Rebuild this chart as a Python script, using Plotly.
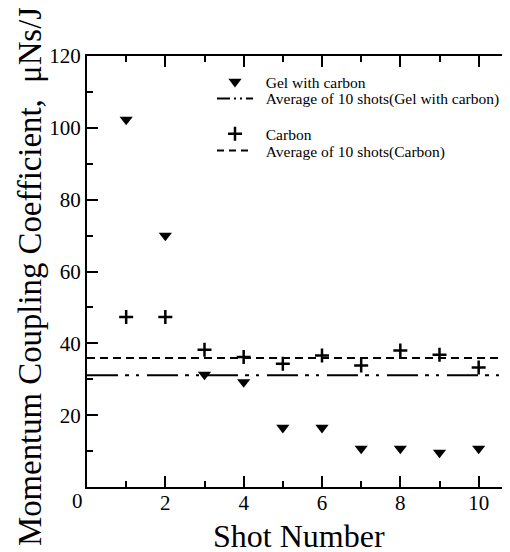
import plotly.graph_objects as go

shots = [1, 2, 3, 4, 5, 6, 7, 8, 9, 10]
gel_with_carbon = [102.3, 70.0, 31.3, 29.2, 16.5, 16.5, 10.7, 10.7, 9.6, 10.7]
carbon = [47.3, 47.3, 38.2, 36.2, 34.3, 36.6, 33.8, 38.0, 36.8, 33.3]
avg_gel = 31.1
avg_carbon = 35.9

x_range = [0, 10.8]
y_range = [0, 120]
x_ticks = [2, 4, 6, 8, 10]
y_ticks = [20, 40, 60, 80, 100, 120]

FONT = "Liberation Serif, Times New Roman, serif"
LEG_FONT = dict(family=FONT, size=15.5, color="black")
PAD = "\u00a0\u00a0"

fig = go.Figure()

# average lines drawn across the full x range
fig.add_trace(go.Scatter(
    x=x_range, y=[avg_gel, avg_gel], mode="lines", showlegend=False,
    line=dict(color="black", width=2, dash="31px,7px,4px,7px,3px,8px"),
))
fig.add_trace(go.Scatter(
    x=x_range, y=[avg_carbon, avg_carbon], mode="lines", showlegend=False,
    line=dict(color="black", width=2, dash="8px,5px"),
))
# legend-only entries for the average lines (shorter dash pattern, as in the key)
fig.add_trace(go.Scatter(
    x=[None], y=[None], mode="lines",
    name=PAD + "Average of 10 shots(Gel with carbon)", legend="legend2",
    line=dict(color="black", width=2, dash="13px,4px,2px,4px,2px,4px"),
))
fig.add_trace(go.Scatter(
    x=[None], y=[None], mode="lines",
    name=PAD + "Average of 10 shots(Carbon)", legend="legend4",
    line=dict(color="black", width=2, dash="7px,5px"),
))
fig.add_trace(go.Scatter(
    x=shots, y=gel_with_carbon, mode="markers",
    name=PAD + "Gel with carbon", legend="legend",
    marker=dict(symbol="triangle-down", size=11.5, color="black"),
))
fig.add_trace(go.Scatter(
    x=shots, y=carbon, mode="markers",
    name=PAD + "Carbon", legend="legend3",
    marker=dict(symbol="cross-thin", size=10, color="black",
                line=dict(color="black", width=2.5)),
))

fig.add_annotation(x=0, y=0, xref="x", yref="y", text="0", showarrow=False,
                   xshift=-10, yshift=-14, font=dict(family=FONT, size=21, color="black"))
fig.add_annotation(x=0.501, y=-0.114, xref="paper", yref="paper", text="Shot Number",
                   showarrow=False, xanchor="center", yanchor="middle",
                   font=dict(family=FONT, size=32, color="black"))
fig.add_annotation(x=-0.1348, y=0.4896, xref="paper", yref="paper",
                   text="Momentum Coupling Coefficient,  \u03bcNs/J", textangle=-90,
                   showarrow=False, xanchor="center", yanchor="middle",
                   font=dict(family=FONT, size=32.8, color="black"))

leg_x = 0.2955
def leg(y):
    return dict(x=leg_x, y=y, xanchor="left", yanchor="top", font=LEG_FONT,
                bgcolor="rgba(0,0,0,0)", itemwidth=36)

fig.update_layout(
    width=510, height=552,
    margin=dict(l=79, r=8, t=48, b=73, autoexpand=False),
    paper_bgcolor="white", plot_bgcolor="white",
    font=dict(family=FONT, color="black"),
    showlegend=True,
    legend=leg(0.979),
    legend2=leg(0.940),
    legend3=leg(0.858),
    legend4=leg(0.819),
    xaxis=dict(
        range=x_range, tickvals=x_ticks, showgrid=False, zeroline=False,
        showline=True, linecolor="black", linewidth=2, mirror="allticks",
        ticks="inside", ticklen=11, tickwidth=2, tickcolor="black",
        minor=dict(dtick=1, ticks="inside", ticklen=6, tickwidth=2, tickcolor="black"),
        tickfont=dict(family=FONT, size=21, color="black"), ticklabelstandoff=-4,
    ),
    yaxis=dict(
        range=y_range, tickvals=y_ticks, showgrid=False, zeroline=False,
        showline=True, linecolor="black", linewidth=2, mirror=False,
        ticks="inside", ticklen=11, tickwidth=2, tickcolor="black",
        minor=dict(dtick=10, ticks="inside", ticklen=6, tickwidth=2, tickcolor="black"),
        tickfont=dict(family=FONT, size=21, color="black"),
    ),
    yaxis2=dict(
        range=y_range, overlaying="y", side="right", matches="y",
        showgrid=False, zeroline=False, showline=False, showticklabels=False,
        tickvals=y_ticks, ticks="inside", ticklen=11, tickwidth=2, tickcolor="black",
        minor=dict(dtick=10, ticks="inside", ticklen=6, tickwidth=2, tickcolor="black"),
    ),
)

fig.write_html("out.html")
